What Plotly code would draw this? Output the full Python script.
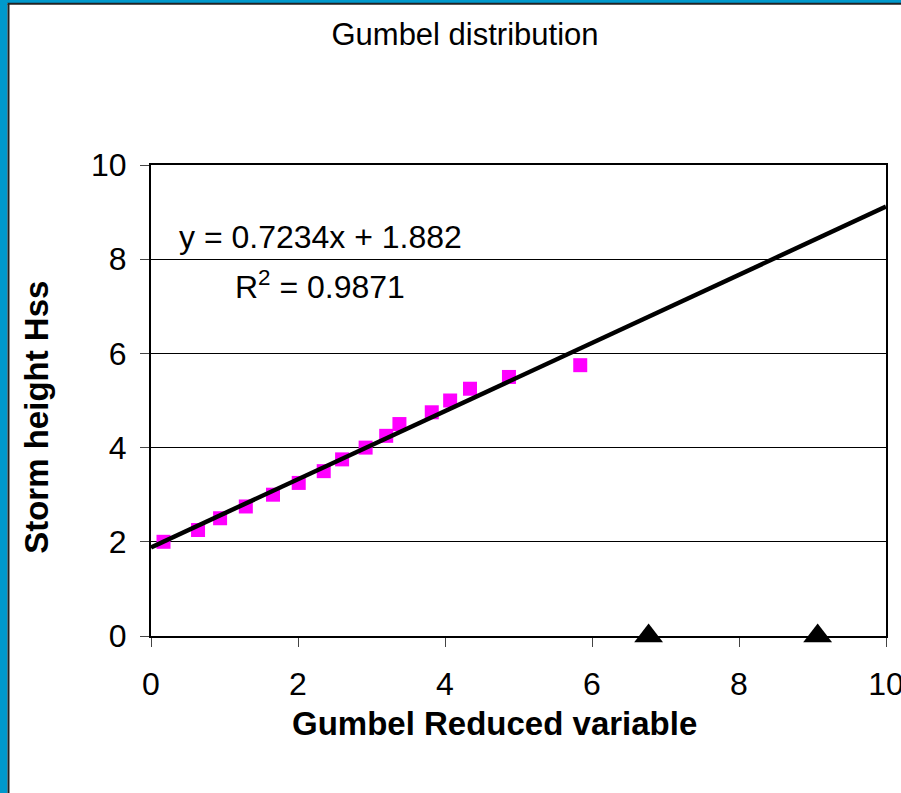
import plotly.graph_objects as go

# Gumbel reduced variable and observed storm heights (Hss)
reduced_var = [0.17, 0.64, 0.94, 1.29, 1.66, 2.01, 2.35, 2.60, 2.92, 3.20,
               3.38, 3.82, 4.07, 4.34, 4.87, 5.84]
storm_height = [2.0, 2.25, 2.5, 2.75, 3.0, 3.25, 3.5, 3.75, 4.0, 4.25,
                4.5, 4.75, 5.0, 5.25, 5.5, 5.75]

# Linear trendline fitted to the points
slope = 0.7234
intercept = 1.882
r_squared = 0.9871
trend_x = [0, 10]

# Marker positions along the x axis
marker_x = [6.77, 9.07]
marker_y = [0, 0]

x_ticks = [0, 2, 4, 6, 8, 10]
y_ticks = [0, 2, 4, 6, 8, 10]

FONT = "Arial, Liberation Sans, sans-serif"
W, H = 901, 793
L, R, T, B = 151, 15, 165, 157

fig = go.Figure()

fig.add_trace(go.Scatter(
    x=reduced_var, y=storm_height, mode="markers",
    marker=dict(symbol="square", size=14, color="#FF00FF"),
    showlegend=False, cliponaxis=False,
))

fig.add_trace(go.Scatter(
    x=trend_x, y=[slope * v + intercept for v in trend_x], mode="lines",
    line=dict(color="black", width=4.5),
    showlegend=False, cliponaxis=False,
))

fig.add_trace(go.Scatter(
    x=marker_x, y=marker_y, mode="markers",
    marker=dict(symbol="triangle-up", size=25, color="black"),
    showlegend=False, cliponaxis=False,
))

axis_common = dict(
    showline=True, linecolor="black", linewidth=2, mirror=True,
    ticks="outside", ticklen=9, tickwidth=1, tickcolor="#444",
    tickfont=dict(family=FONT, size=32, color="black"),
    zeroline=False, ticklabeloverflow="allow",
)

fig.update_xaxes(range=[0, 10], tickvals=x_ticks, showgrid=False,
                 ticklabelstandoff=10, **axis_common)
fig.update_yaxes(range=[0, 10], tickvals=y_ticks, showgrid=True,
                 gridcolor="black", gridwidth=1, ticklabelstandoff=7,
                 **axis_common)

# trendline equation and goodness of fit
fig.add_annotation(
    x=2.306, y=8.47, xref="x", yref="y", showarrow=False,
    text=f"y = {slope}x + {intercept}",
    font=dict(family=FONT, size=32, color="black"),
    xanchor="center", yanchor="middle",
)
fig.add_annotation(
    x=2.306, y=7.46, xref="x", yref="y", showarrow=False,
    text=f"R<sup>2</sup> = {r_squared}",
    font=dict(family=FONT, size=32, color="black"),
    xanchor="center", yanchor="middle",
)

# axis titles
fig.add_annotation(
    x=0.468, y=-0.186, xref="paper", yref="paper", showarrow=False,
    text="<b>Gumbel Reduced variable</b>",
    font=dict(family=FONT, size=33, color="black"),
    xanchor="center", yanchor="middle",
)
fig.add_annotation(
    x=-0.156, y=0.464, xref="paper", yref="paper", showarrow=False,
    text="<b>Storm height Hss</b>", textangle=-90,
    font=dict(family=FONT, size=33, color="black"),
    xanchor="center", yanchor="middle",
)

# outer frame: blue band with a dark inner edge on the left and top
px_to_x = lambda p: (p - L) / (W - L - R)
px_to_y = lambda p: 1 - (p - T) / (H - T - B)
frame = [
    dict(type="rect", xref="paper", yref="paper",
         x0=px_to_x(0), x1=px_to_x(7.5), y0=px_to_y(H + 5), y1=px_to_y(-5),
         fillcolor="#0099CC", line_width=0, layer="above"),
    dict(type="rect", xref="paper", yref="paper",
         x0=px_to_x(0), x1=px_to_x(W + 5), y0=px_to_y(3), y1=px_to_y(-5),
         fillcolor="#0099CC", line_width=0, layer="above"),
    dict(type="line", xref="paper", yref="paper",
         x0=px_to_x(8.5), x1=px_to_x(8.5), y0=px_to_y(H + 5), y1=px_to_y(3.7),
         line=dict(color="#222", width=2), layer="above"),
    dict(type="line", xref="paper", yref="paper",
         x0=px_to_x(7.5), x1=px_to_x(W + 5), y0=px_to_y(3.8), y1=px_to_y(3.8),
         line=dict(color="#222", width=2), layer="above"),
]

fig.update_layout(
    width=W, height=H,
    margin=dict(l=L, r=R, t=T, b=B, autoexpand=False),
    paper_bgcolor="white", plot_bgcolor="white",
    title=dict(text="Gumbel distribution", x=465 / W, xref="container",
               xanchor="center", y=1 - 34 / H, yref="container",
               yanchor="middle",
               font=dict(family=FONT, size=31, color="black")),
    shapes=frame,
)

fig.write_html("out.html")
